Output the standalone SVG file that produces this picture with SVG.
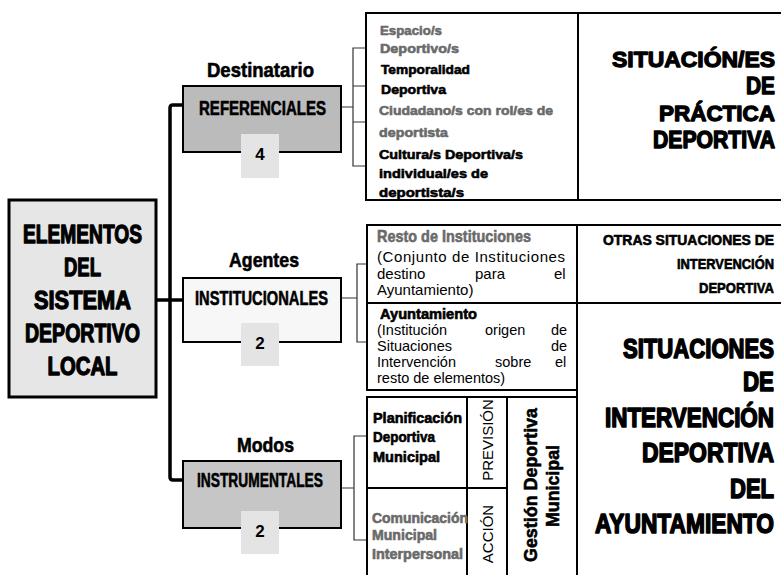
<svg xmlns="http://www.w3.org/2000/svg" width="781" height="575" viewBox="0 0 781 575">
<style>
.imp{font-family:"Liberation Sans Narrow","Liberation Sans",Arial,sans-serif;font-weight:bold;fill:#000;stroke:#000;stroke-width:.6;stroke-linejoin:round}
.big{stroke-width:1.3}
.ar{font-family:"Liberation Sans",Arial,sans-serif;fill:#000}
.g{fill:#6a6a6a;stroke:#6a6a6a}
.box{stroke:#000;stroke-width:2}
.ln{stroke:#000;stroke-width:2;fill:none}
.thin{stroke:#333;stroke-width:1.2;fill:none}
.badge{fill:#e4e4e4}
.mid{text-anchor:middle}
.end{text-anchor:end}
</style>
<rect width="781" height="575" fill="#fff"/>

<g id="connectors">
  <path d="M183,105 H173 Q170,105 170,108 V477 Q170,480 173,480 H183" stroke="#000" stroke-width="3.5" fill="none"/>
  <line x1="156" y1="300" x2="183" y2="300" stroke="#000" stroke-width="3.5"/>
  <path class="thin" d="M341,107 H353 M366,48 H353 V166 H366 M353,86 H366 M353,122 H366"/>
  <path class="thin" d="M341,298 H357 M367,264 H357 V342 H367"/>
  <path class="thin" d="M341,488 H354 M367,436 H354 V540 H367"/>
</g>

<g id="node-main">
  <rect x="9" y="200" width="147" height="197" fill="#e6e6e6" stroke="#000" stroke-width="3"/>
  <text class="imp big mid" x="82.5" y="243" font-size="26" textLength="119" lengthAdjust="spacingAndGlyphs">ELEMENTOS</text>
  <text class="imp big mid" x="82.5" y="276" font-size="26" textLength="37" lengthAdjust="spacingAndGlyphs">DEL</text>
  <text class="imp big mid" x="82.5" y="309" font-size="26" textLength="97" lengthAdjust="spacingAndGlyphs">SISTEMA</text>
  <text class="imp big mid" x="82.5" y="342" font-size="26" textLength="115" lengthAdjust="spacingAndGlyphs">DEPORTIVO</text>
  <text class="imp big mid" x="82.5" y="375" font-size="26" textLength="70" lengthAdjust="spacingAndGlyphs">LOCAL</text>
</g>

<g id="node-referenciales">
  <text class="imp mid" x="260.5" y="77" font-size="21" stroke-width="1" textLength="107" lengthAdjust="spacingAndGlyphs">Destinatario</text>
  <rect class="box" x="183" y="86" width="158" height="66" fill="#bbbbbb"/>
  <text class="imp mid" x="262.5" y="115" font-size="20" textLength="127" lengthAdjust="spacingAndGlyphs">REFERENCIALES</text>
  <rect class="badge" x="241" y="134" width="38" height="44"/>
  <text class="ar mid" x="260" y="160" font-size="17" font-weight="bold">4</text>
</g>

<g id="node-institucionales">
  <text class="imp mid" x="264" y="267" font-size="21" stroke-width="1" textLength="70" lengthAdjust="spacingAndGlyphs">Agentes</text>
  <rect class="box" x="183" y="278" width="158" height="64" fill="#f7f7f7"/>
  <text class="imp mid" x="261.5" y="305" font-size="20" textLength="133" lengthAdjust="spacingAndGlyphs">INSTITUCIONALES</text>
  <rect class="badge" x="241" y="323" width="38" height="43"/>
  <text class="ar mid" x="260" y="349" font-size="17" font-weight="bold">2</text>
</g>

<g id="node-instrumentales">
  <text class="imp mid" x="265.5" y="452" font-size="21" stroke-width="1" textLength="57" lengthAdjust="spacingAndGlyphs">Modos</text>
  <rect class="box" x="183" y="461" width="158" height="67" fill="#c6c6c6"/>
  <text class="imp mid" x="260" y="487" font-size="20" textLength="126" lengthAdjust="spacingAndGlyphs">INSTRUMENTALES</text>
  <rect class="badge" x="241" y="511" width="38" height="43"/>
  <text class="ar mid" x="260" y="537" font-size="17" font-weight="bold">2</text>
</g>

<g id="node-referenciales-list">
  <rect class="box" x="366" y="13" width="212" height="187" fill="#fff"/>
  <text class="imp g" x="380" y="35" font-size="13" textLength="62" lengthAdjust="spacingAndGlyphs">Espacio/s</text>
  <text class="imp g" x="380" y="53" font-size="13" textLength="79" lengthAdjust="spacingAndGlyphs">Deportivo/s</text>
  <text class="imp" x="381" y="74" font-size="13" textLength="89" lengthAdjust="spacingAndGlyphs">Temporalidad</text>
  <text class="imp" x="381" y="94" font-size="13" textLength="65" lengthAdjust="spacingAndGlyphs">Deportiva</text>
  <text class="imp g" x="379" y="115" font-size="13" textLength="174" lengthAdjust="spacingAndGlyphs">Ciudadano/s con rol/es de</text>
  <text class="imp g" x="379" y="137" font-size="13" textLength="69" lengthAdjust="spacingAndGlyphs">deportista</text>
  <text class="imp" x="379" y="159" font-size="13" textLength="144" lengthAdjust="spacingAndGlyphs">Cultura/s Deportiva/s</text>
  <text class="imp" x="379" y="178" font-size="13" textLength="109" lengthAdjust="spacingAndGlyphs">individual/es de</text>
  <text class="imp" x="379" y="197" font-size="13" textLength="85" lengthAdjust="spacingAndGlyphs">deportista/s</text>
</g>

<g id="node-situacion-practica">
  <path class="ln" d="M578,13 H781 M578,200 H781 M578,13 V200"/>
  <text class="imp big end" x="775" y="67" font-size="22.9" textLength="163" lengthAdjust="spacingAndGlyphs">SITUACIÓN/ES</text>
  <text class="imp big end" x="775" y="94" font-size="23" textLength="29" lengthAdjust="spacingAndGlyphs">DE</text>
  <text class="imp big end" x="775" y="121" font-size="22.4" textLength="116" lengthAdjust="spacingAndGlyphs">PRÁCTICA</text>
  <text class="imp big end" x="775" y="148" font-size="20.8" textLength="122" lengthAdjust="spacingAndGlyphs" transform="matrix(1,0,0,1.12,0,-17.76)">DEPORTIVA</text>
</g>

<g id="node-instituciones">
  <rect class="box" x="367" y="225" width="210" height="165" fill="#fff"/>
  <line class="ln" x1="367" y1="303" x2="577" y2="303"/>
  <text class="imp g" x="377" y="242" font-size="17" textLength="154" lengthAdjust="spacingAndGlyphs">Resto de Instituciones</text>
  <text class="ar" x="377" y="262" font-size="15" textLength="188" lengthAdjust="spacing">(Conjunto de Instituciones</text>
  <text class="ar" x="377" y="278.5" font-size="15">destino</text>
  <text class="ar" x="475" y="278.5" font-size="15">para</text>
  <text class="ar" x="554" y="278.5" font-size="15">el</text>
  <text class="ar" x="377" y="295" font-size="15">Ayuntamiento)</text>
  <text class="imp" x="380" y="318.5" font-size="14" textLength="97" lengthAdjust="spacingAndGlyphs">Ayuntamiento</text>
  <text class="ar" x="377" y="335" font-size="14.5">(Institución</text>
  <text class="ar" x="485" y="335" font-size="14.5">origen</text>
  <text class="ar" x="551" y="335" font-size="14.5">de</text>
  <text class="ar" x="377" y="351" font-size="14.5">Situaciones</text>
  <text class="ar" x="551" y="351" font-size="14.5">de</text>
  <text class="ar" x="377" y="367" font-size="14.5">Intervención</text>
  <text class="ar" x="495" y="367" font-size="14.5">sobre</text>
  <text class="ar" x="555" y="367" font-size="14.5">el</text>
  <text class="ar" x="377" y="383" font-size="14.5">resto de elementos)</text>
</g>

<g id="node-otras-situaciones">
  <path class="ln" d="M577,225 H781 M577,303 H781 M577,225 V303"/>
  <text class="imp end" x="774" y="245" font-size="14" textLength="171" lengthAdjust="spacingAndGlyphs">OTRAS SITUACIONES  DE</text>
  <text class="imp end" x="774" y="269" font-size="14" textLength="97" lengthAdjust="spacingAndGlyphs">INTERVENCIÓN</text>
  <text class="imp end" x="774" y="293" font-size="14" textLength="75" lengthAdjust="spacingAndGlyphs">DEPORTIVA</text>
</g>

<g id="node-situaciones-intervencion">
  <path class="ln" d="M577,303 V575"/>
  <text class="imp big end" x="774" y="358" font-size="22" textLength="151" lengthAdjust="spacingAndGlyphs" transform="matrix(1,0,0,1.25,0,-89.5)">SITUACIONES</text>
  <text class="imp big end" x="774" y="391" font-size="22" textLength="31" lengthAdjust="spacingAndGlyphs" transform="matrix(1,0,0,1.25,0,-97.75)">DE</text>
  <text class="imp big end" x="774" y="427" font-size="21.7" textLength="169" lengthAdjust="spacingAndGlyphs" transform="matrix(1,0,0,1.26,0,-111.02)">INTERVENCIÓN</text>
  <text class="imp big end" x="774" y="462" font-size="22.5" textLength="132" lengthAdjust="spacingAndGlyphs" transform="matrix(1,0,0,1.22,0,-101.64)">DEPORTIVA</text>
  <text class="imp big end" x="774" y="498" font-size="22" textLength="44" lengthAdjust="spacingAndGlyphs" transform="matrix(1,0,0,1.25,0,-124.5)">DEL</text>
  <text class="imp big end" x="774" y="533" font-size="22.2" textLength="179" lengthAdjust="spacingAndGlyphs" transform="matrix(1,0,0,1.24,0,-127.92)">AYUNTAMIENTO</text>
</g>

<g id="node-gestion">
  <path class="ln" d="M367,575 V397 H577 M467,397 V575 M507,397 V575 M367,488 H507"/>
  <text class="imp" x="373" y="423" font-size="14" textLength="89" lengthAdjust="spacingAndGlyphs">Planificación</text>
  <text class="imp" x="373" y="442" font-size="14" textLength="62" lengthAdjust="spacingAndGlyphs">Deportiva</text>
  <text class="imp" x="373" y="462" font-size="14" textLength="67" lengthAdjust="spacingAndGlyphs">Municipal</text>
  <text class="imp g" x="372" y="523" font-size="14" textLength="96" lengthAdjust="spacingAndGlyphs">Comunicación</text>
  <text class="imp g" x="372" y="540" font-size="14" textLength="65" lengthAdjust="spacingAndGlyphs">Municipal</text>
  <text class="imp g" x="372" y="559" font-size="14" textLength="91" lengthAdjust="spacingAndGlyphs">Interpersonal</text>
  <text class="ar mid" transform="translate(493,440) rotate(-90)" font-size="15">PREVISIÓN</text>
  <text class="ar mid" transform="translate(493,534) rotate(-90)" font-size="15">ACCIÓN</text>
  <text class="imp mid" transform="translate(537,485) rotate(-90)" font-size="18" stroke-width="1" textLength="154" lengthAdjust="spacingAndGlyphs">Gestión Deportiva</text>
  <text class="imp mid" transform="translate(559,486) rotate(-90)" font-size="18" stroke-width="1" textLength="82" lengthAdjust="spacingAndGlyphs">Municipal</text>
</g>
</svg>
